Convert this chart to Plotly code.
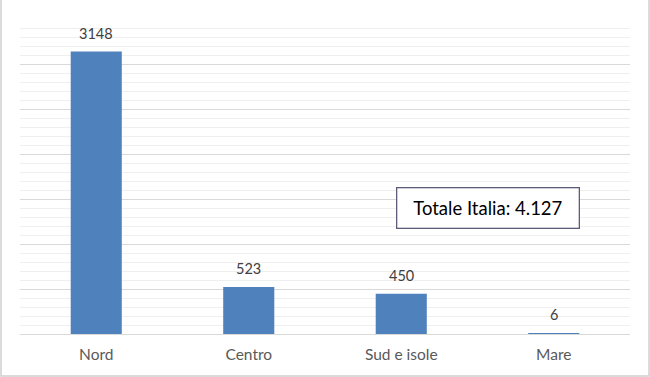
import plotly.graph_objects as go

categories = ["Nord", "Centro", "Sud e isole", "Mare"]
values = [3148, 523, 450, 6]
total_label = "Totale Italia: 4.127"

W, H = 650, 377
ml, mr, mt, mb = 20, 20, 20, 43
pw, ph = W - ml - mr, H - mt - mb
FONT = "Lato, Open Sans, sans-serif"

fig = go.Figure(go.Bar(
    x=categories, y=values,
    marker=dict(color="#4f81bd", line=dict(width=0)),
    hoverinfo="x+y",
))

label_annots = [dict(
    x=c, y=v, xref="x", yref="y", text=str(v), showarrow=False,
    yanchor="bottom", yshift=8,
    font=dict(family=FONT, size=14.5, color="#404040"),
) for c, v in zip(categories, values)]

fig.update_layout(
    width=W, height=H,
    margin=dict(l=ml, r=mr, t=mt, b=mb),
    paper_bgcolor="white", plot_bgcolor="white",
    bargap=0.665,
    showlegend=False,
    font=dict(family=FONT),
    xaxis=dict(
        showgrid=False, showline=False, zeroline=False,
        tickfont=dict(size=15.5, color="#595959"),
        ticks="outside", ticklen=6, tickcolor="rgba(0,0,0,0)",
    ),
    yaxis=dict(
        range=[0, 3500], dtick=500, showticklabels=False,
        showgrid=True, gridcolor="#d9d9d9", gridwidth=1,
        zeroline=True, zerolinecolor="#d9d9d9", zerolinewidth=1,
        minor=dict(dtick=100, showgrid=True, gridcolor="#efefef", gridwidth=1),
    ),
    annotations=label_annots + [dict(
        text=total_label, xref="paper", yref="paper",
        x=(487.5 - ml) / pw, y=(H - mb - 207.5) / ph,
        xanchor="center", yanchor="middle",
        showarrow=False, font=dict(family=FONT, size=18.5, color="#000000"),
        width=165, height=23,
        bordercolor="#5c5c7a", borderwidth=1.3, borderpad=8,
        bgcolor="white",
    )],
    shapes=[dict(
        type="rect", xref="paper", yref="paper",
        x0=(1 - ml) / pw, x1=(W - 1 - ml) / pw,
        y0=-(H - 1 - mt - ph) / ph, y1=(H - 1 - mt) / ph,
        line=dict(color="#d0d0d0", width=1.5), layer="below",
    )],
)

fig.write_html(
    "out.html",
    config={"displayModeBar": False},
    post_script="document.body.style.margin='0';document.body.style.overflow='hidden';",
)
